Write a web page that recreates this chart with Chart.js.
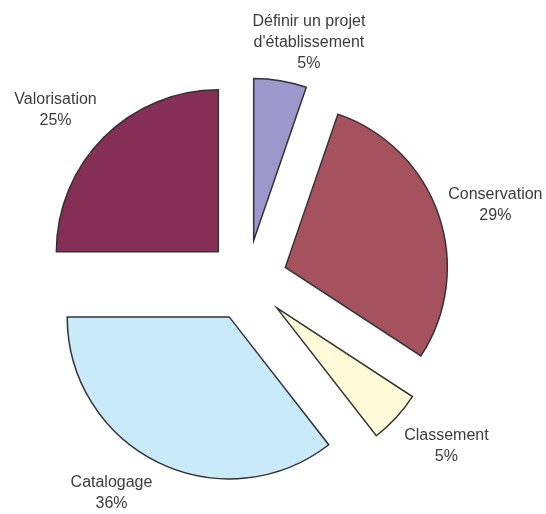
<!DOCTYPE html>
<html><head><meta charset="utf-8">
<script src="https://cdn.jsdelivr.net/npm/chart.js@4"></script>
<style>html,body{margin:0;padding:0;background:#fff}#wrap{width:546px;height:514px;position:relative}</style>
</head><body><div id="wrap"><canvas id="c"></canvas></div>
<script>
// ---- data ----
const categories = ["Définir un projet d'établissement", "Conservation", "Classement", "Catalogage", "Valorisation"];
const labelLines = [["Définir un projet", "d'établissement"], ["Conservation"], ["Classement"], ["Catalogage"], ["Valorisation"]];
const counts = [4, 22, 4, 27, 19];

// ---- style ----
const sliceColors = ['#9D97CB', '#A6525E', '#FFFAD7', '#C8EAF9', '#852E56'];
const explode = 40.5;
const labelGap = 40;
const labelNudge = [[22, 0], [19, 2], [21, 0], [-29, -7], [-20, 0]];
const lineHeight = 20.7;

const total = counts.reduce((a, b) => a + b, 0);
const pctLabels = counts.map(v => Math.round(v / total * 100) + '%');

const explodePlugin = {
  id: 'explode',
  afterDatasetsUpdate(chart) {
    chart.getDatasetMeta(0).data.forEach(el => {
      const mid = (el.startAngle + el.endAngle) / 2;
      el.x += Math.cos(mid) * explode;
      el.y += Math.sin(mid) * explode;
    });
  }
};

const labelPlugin = {
  id: 'sliceLabels',
  afterDatasetsDraw(chart) {
    const ctx = chart.ctx;
    ctx.save();
    ctx.font = '16px "Liberation Sans", Arial, sans-serif';
    ctx.fillStyle = '#3c3c3c';
    ctx.textAlign = 'center';
    ctx.textBaseline = 'alphabetic';
    chart.getDatasetMeta(0).data.forEach((el, i) => {
      const mid = (el.startAngle + el.endAngle) / 2;
      const d = el.outerRadius + labelGap;
      const cx = el.x + Math.cos(mid) * d + labelNudge[i][0];
      const cy = el.y + Math.sin(mid) * d + labelNudge[i][1];
      const lines = labelLines[i].concat([pctLabels[i]]);
      const n = lines.length;
      lines.forEach((t, k) => {
        const y = cy + (k - (n - 1) / 2) * lineHeight + 5.8;
        ctx.fillText(t, cx, y);
      });
    });
    ctx.restore();
  }
};

new Chart(document.getElementById('c'), {
  type: 'pie',
  data: {
    labels: categories,
    datasets: [{
      data: counts,
      backgroundColor: sliceColors,
      borderColor: '#333333',
      borderWidth: 1.5,
      borderJoinStyle: 'miter'
    }]
  },
  options: {
    responsive: true,
    maintainAspectRatio: false,
    animation: false,
    events: [],
    radius: 162,
    layout: { padding: { left: 0, right: 52, top: 47, bottom: 0 } },
    plugins: { legend: { display: false }, tooltip: { enabled: false } }
  },
  plugins: [explodePlugin, labelPlugin]
});
</script>
</body></html>
